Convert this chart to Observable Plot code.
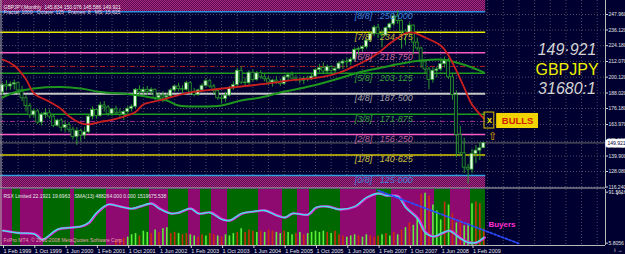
<!DOCTYPE html>
<html><head><meta charset="utf-8">
<script src="https://cdn.jsdelivr.net/npm/d3@7"></script>
<script src="https://cdn.jsdelivr.net/npm/@observablehq/plot@0.6"></script>
<style>
html,body{margin:0;padding:0;background:#000030;}
#chart{position:relative;width:625px;height:254px;overflow:hidden;background:#000030;}
#chart svg{display:block;}
</style></head><body><div id="chart"></div>
<script>
// ---------- DATA ----------
// monthly candles, Feb 1999 .. May 2009 (index 0 = Feb 1999)
const opens = [188.5,194.0,193.0,194.5,195.5,190.0,184.0,178.0,171.0,174.0,165.5,171.5,172.5,170.0,163.0,167.0,161.5,163.5,160.0,154.5,159.0,155.5,158.0,170.0,175.0,170.5,178.5,177.0,172.0,175.5,173.0,171.5,173.5,176.0,177.5,190.5,188.5,190.5,189.0,190.5,184.0,186.0,184.5,185.5,190.0,193.0,191.0,190.5,195.5,188.5,186.5,190.0,193.5,197.0,193.0,189.5,184.0,183.5,186.0,191.5,194.0,205.0,196.0,195.5,203.5,198.0,203.0,200.0,198.5,196.0,197.5,196.5,195.0,200.0,201.5,199.0,198.0,197.5,199.0,198.5,200.5,205.5,207.0,204.5,208.0,205.0,206.5,210.5,212.0,211.5,213.5,221.0,221.5,223.0,228.0,233.0,238.0,233.0,232.0,237.5,240.5,246.5,243.0,235.0,233.0,239.5,226.5,222.0,211.5,206.0,198.0,205.0,206.0,210.0,213.0,200.0,186.5,156.0,142.0,131.0,129.5,141.5,144.0,145.834];
const highs = [195.5,197.5,196.5,198.0,196.0,193.0,186.0,180.0,176.0,175.5,173.0,176.0,175.0,171.5,168.0,168.5,166.5,165.5,162.0,161.5,160.5,162.0,171.5,177.5,176.0,181.0,181.5,178.5,176.5,178.0,176.0,174.5,177.5,179.0,191.5,193.5,192.5,193.0,192.0,191.0,188.5,189.0,188.0,191.5,194.0,195.5,193.5,197.0,196.5,191.5,191.0,195.0,199.0,198.5,194.5,191.5,186.5,188.5,193.0,196.5,207.0,208.0,199.5,205.0,205.5,204.5,205.0,202.5,200.5,198.5,200.5,198.5,201.5,203.0,204.0,201.5,200.0,200.5,201.0,202.5,206.5,210.0,211.0,209.5,209.0,208.0,212.0,213.5,214.5,215.0,222.5,223.0,224.0,229.5,234.0,239.5,240.5,235.5,238.5,241.5,248.0,251.0,244.0,236.5,241.5,240.0,230.0,223.0,213.0,207.5,207.5,208.0,213.5,215.5,214.5,202.5,189.5,162.5,153.5,133.5,145.0,148.0,150.0,150.076];
const lows = [186.0,189.5,190.0,190.5,186.5,181.5,173.5,168.5,169.0,164.0,163.0,168.5,168.0,161.5,162.0,158.5,158.0,157.5,152.0,148.0,151.0,152.5,157.0,167.5,168.0,169.5,173.5,170.0,170.0,171.5,169.5,167.0,172.0,173.5,176.0,186.0,186.5,186.0,186.5,182.0,181.5,180.5,181.5,184.0,188.5,189.0,187.0,189.5,186.5,185.0,185.5,188.5,192.5,191.5,187.0,182.5,179.5,181.0,185.0,190.0,192.5,194.5,192.5,194.0,196.5,197.0,198.5,196.5,193.5,192.5,194.5,193.0,194.0,197.0,198.5,196.5,195.0,194.5,196.5,197.5,199.5,203.5,202.5,202.0,203.0,202.5,205.5,206.0,207.0,209.0,212.0,216.5,219.5,221.5,226.5,231.0,229.5,222.5,231.0,236.0,239.0,240.5,221.5,224.5,231.5,217.0,220.0,207.0,203.0,190.5,195.5,199.5,204.5,207.0,198.5,182.5,138.5,139.5,126.5,118.5,126.5,134.0,136.5,145.586];
const closes = [194.0,193.0,194.5,195.5,190.0,184.0,178.0,171.0,174.0,165.5,171.5,172.5,170.0,163.0,167.0,161.5,163.5,160.0,154.5,159.0,155.5,158.0,170.0,175.0,170.5,178.5,177.0,172.0,175.5,173.0,171.5,173.5,176.0,177.5,190.5,188.5,190.5,189.0,190.5,184.0,186.0,184.5,185.5,190.0,193.0,191.0,190.5,195.5,188.5,186.5,190.0,193.5,197.0,193.0,189.5,184.0,183.5,186.0,191.5,194.0,205.0,196.0,195.5,203.5,198.0,203.0,200.0,198.5,196.0,197.5,196.5,195.0,200.0,201.5,199.0,198.0,197.5,199.0,198.5,200.5,205.5,207.0,204.5,208.0,205.0,206.5,210.5,212.0,211.5,213.5,221.0,221.5,223.0,228.0,233.0,238.0,233.0,232.0,237.5,240.5,246.5,243.0,235.0,233.0,239.5,226.5,222.0,211.5,206.0,198.0,205.0,206.0,210.0,213.0,200.0,186.5,156.0,142.0,131.0,129.5,141.5,144.0,145.8,149.921];

// moving averages (bar index, price)
const redIdx = [0,3,6,8,12,15,17,20,22,25,27,31,34,36,40,47,50,54,61,68,73,79,81,86,91,94,96,99,101,103,105,108,112,114,116,118,120,123];
const redVal = [213.6,209.0,198.5,188.0,181.3,175.8,170.2,165.0,164.0,166.0,167.0,170.0,173.5,179.3,182.3,188.0,189.3,190.7,193.0,195.3,197.5,199.2,199.9,203.5,210.0,214.5,218.5,225.8,230.0,233.5,234.2,230.4,224.3,216.7,205.2,192.2,179.2,168.6];
const greenIdx = [0,3,8,15,20,25,33,38,42,45,51,56,61,66,71,76,81,86,91,97,102,107,112,116,120,123];
const greenVal = [184.6,188.4,191.5,192.6,191.5,188.8,186.9,184.6,182.3,178.5,177.7,178.5,182.3,184.6,188.4,191.5,194.9,199.1,203.7,207.5,210.6,212.8,213.6,211.3,207.5,203.7];

// Murrey Math levels
const mmLevels = [250.000,234.375,218.750,203.125,187.500,171.875,156.250,140.625,125.000];
const mmNames = ["[8/8]","[7/8]","[6/8]","[5/8]","[4/8]","[3/8]","[2/8]","[1/8]","[0/8]"];
const extraLevels = [208.3,166.3];

// axis ticks
const priceTicks = [247.960,236.120,224.180,212.070,200.120,188.020,176.180,163.970,151.130,139.900,128.080,116.240];
const timeTickIdx = [0,8,16,24,32,40,48,56,64,72,80,88,96,104,112,120];
const timeTickLabels = ["1 Feb 1999","1 Oct 1999","1 Jun 2000","1 Feb 2001","1 Oct 2001","1 Jun 2002","1 Feb 2003","1 Oct 2003","1 Jun 2004","1 Feb 2005","1 Oct 2005","1 Jun 2006","1 Feb 2007","1 Oct 2007","1 Jun 2008","1 Feb 2009"];
const rsxTicks = [91.5616,5.8056];

// RSX sub-window
const rsxState = ["mmm","gg","mmmmmm","ggggggg","m","gggggggg","mmmmmm","ggggg","mmmmm","ggggg","mmm","ggg","mmmm","gggggggg","mmmmmm","gggg","mmm","gggggggg","mmmmmmmmm","gggg","mmmmmmmmmmm","gggg","mmmmm","gggg"].join("");
const rsxIdx = [0,4,8,9,10,14,17,20,22,24,27,29,33,35,38,40,43,45,48,50,53,56,58,61,64,67,70,72,74,78,80,83,86,90,93,96,98,101,103,106,108,110,112,114,115,117,119,121,123];
const rsxVal = [27,23,21.5,17,11.5,29,32,34,40.5,57,71,69,64,67.5,72.5,64,55.7,57.4,64,55.7,57.4,45.7,44,55.7,59,60.8,52.4,49,55.7,54,65.8,67.5,62.5,67.5,82.6,89.4,86,84.3,65.8,47.4,23.8,17,22,27,23.8,13.7,7,7,15.4];
const histStart = 29;
const histVals = [10,12,14,16,20,22,18,26,24,22,28,24,30,32,22,24,22,20,22,20,18,16,20,18,22,20,18,16,20,18,22,24,30,24,28,26,24,26,24,28,26,24,22,26,24,20,22,24,20,22,24,26,24,26,24,22,26,20,18,16,18,20,18,16,20,18,16,18,20,22,18,24,20,28,32,40,36,50,88,90,85,70,60,45,75,70,55,40,45,35,38,72,75,72,30];
const histColors = "rrrgggrggrgrggrrgrrggrrgrrgrgggrgrrrgrgrrggrggrgrgggggrgrrrgggrggrrrgrgrgrgrggrgrgggrgrgrgggr";
const trendIdx = [96,132];
const trendVal = [94.4,5.3];
const signal = [{i:124.5, price:167.0, label:"BULLS"}];

// ---------- BUILD ----------
const n = closes.length;
const candles = closes.map((c,i)=>({i, open:opens[i], high:highs[i], low:lows[i], close:c}));
const red = redIdx.map((i,k)=>({i, v:redVal[k]}));
const green = greenIdx.map((i,k)=>({i, v:greenVal[k]}));
const mm = mmLevels.map((v,k)=>({v, name:mmNames[k], k}));
const XR = [-0.511, 154.12];
const xEnd = n - 0.5;
const yMain = [115.11, 258.65];
const ySub = [1.96, 96.1];
const lastClose = closes[n-1];
const gridIdx = d3.range(0, 156, 4);
const FONT = "Liberation Sans, Arial, sans-serif";

const mmStroke = ["#2f8fe0","#e8e800","#ff5cc0","#1e9a1e","#c8c8c8","#1e9a1e","#ff5cc0","#d8c800","#2fa0e0"];
const mmText = ["#3a80d8","#c0b038","#c8689e","#38a038","#a0a0a0","#38a038","#b8649a","#d0c040","#3a80d8"];
const fmt = v => v.toFixed(3).replace(".", "\u00b7");

const main = Plot.plot({
  width:625, height:188, marginLeft:0, marginRight:20, marginTop:0, marginBottom:0,
  style:{background:"transparent", color:"#e6e6e6", fontFamily:FONT, fontSize:"5px", overflow:"visible"},
  x:{domain:XR, axis:null},
  y:{domain:yMain},
  color:{type:"identity"},
  marks:[
    Plot.ruleX(gridIdx, {stroke:"#4a4a64", strokeDasharray:"1,2", strokeWidth:1}),
    Plot.ruleY(priceTicks, {stroke:"#4a4a64", strokeDasharray:"1,2", strokeWidth:1}),
    Plot.rect([mmLevels[0]], {x1:XR[0], x2:xEnd, y1:d=>d, y2:yMain[1], fill:"url(#hatch)"}),
    Plot.rect([mmLevels[8]], {x1:XR[0], x2:xEnd, y1:yMain[0], y2:d=>d, fill:"url(#hatch)"}),
    Plot.ruleY(mm, {y:"v", x1:XR[0], x2:xEnd, stroke:d=>mmStroke[d.k], strokeWidth:d=>d.k===4?2:1.5}),
    Plot.ruleY(extraLevels, {x1:XR[0], x2:xEnd, stroke:(d,k)=>k===0?"#b02020":"#9a2a8a", strokeDasharray:"5,2,1,2", strokeWidth:1}),
    Plot.ruleY([lastClose], {stroke:"#6a6a6a", strokeWidth:1}),
    Plot.ruleX(candles, {x:"i", y1:"low", y2:"high", stroke:"#2a9a2a", strokeWidth:1}),
    Plot.rect(candles, {x1:d=>d.i-0.38, x2:d=>d.i+0.38, y1:"open", y2:"close", fill:d=>d.close>=d.open?"#e4ffe4":"#00102a", stroke:"#2a9a2a", strokeWidth:0.8}),
    Plot.line(green, {x:"i", y:"v", stroke:"#1e961e", strokeWidth:2, curve:"catmull-rom"}),
    Plot.line(red, {x:"i", y:"v", stroke:"#cc2020", strokeWidth:1.8, curve:"catmull-rom"}),
    Plot.text(mm, {x:()=>90, y:"v", dy:4.5, text:d=>d.name+"\u00a0\u00a0\u00a0"+fmt(d.v), fill:d=>mmText[d.k], fontSize:9, fontStyle:"italic", textAnchor:"start"}),
    Plot.text(["GBPJPY,Monthly  145.834 150.076 145.586 149.921"], {frameAnchor:"top-left", dx:3, dy:5, fill:"#f0f0f0", fontSize:5, textAnchor:"start"}),
    Plot.text(["Fractal: 1000   Octave: 125   Frames: 8   MS: 15.625"], {frameAnchor:"top-left", dx:3, dy:10, fill:"#f0d0e6", fontSize:5, textAnchor:"start"}),
    Plot.text([fmt(lastClose)], {frameAnchor:"top-right", dx:-38.5, dy:43, fill:"#d4d4d4", fontSize:16, fontStyle:"italic", textAnchor:"middle"}),
    Plot.text(["GBPJPY"], {frameAnchor:"top-right", dx:-38.5, dy:63, fill:"#f0f000", fontSize:16, textAnchor:"middle"}),
    Plot.text(["31680:1"], {frameAnchor:"top-right", dx:-38.5, dy:82, fill:"#d4d4d4", fontSize:16, fontStyle:"italic", textAnchor:"middle"}),
    Plot.rect(signal, {x1:d=>d.i-1.3, x2:d=>d.i+1.2, y1:d=>d.price+6.1, y2:d=>d.price-6.1, fill:"none", stroke:"#d8c000", strokeWidth:1}),
    Plot.text(signal, {x:"i", y:"price", text:()=>"x", fill:"#f0e000", fontSize:9, fontWeight:"bold"}),
    Plot.rect(signal, {x1:d=>d.i+1.8, x2:d=>d.i+12.5, y1:d=>d.price+5.4, y2:d=>d.price-6.1, fill:"#f2d400"}),
    Plot.text(signal, {x:"i", y:"price", dx:28, text:"label", fill:"#d02000", fontSize:9.5, fontWeight:"bold"}),
    Plot.text(signal, {x:"i", y:"price", dx:2.5, dy:16, text:()=>"\u21e7", fill:"#e0a800", fontSize:11}),
    Plot.ruleX([XR[0]], {stroke:"#b0b0b0", dx:0.5}),
    Plot.ruleX([XR[1]], {stroke:"#b8b8b8"}),
    Plot.ruleY([yMain[0]], {stroke:"#b8b8b8", dy:-0.5}),
    Plot.axisY(priceTicks, {anchor:"right", tickSize:2, tickPadding:1, tickFormat:d3.format(".3f"), fontSize:5, stroke:"#d0d0d0", fill:"#e6e6e6"}),
    Plot.text([lastClose], {y:d=>d, frameAnchor:"right", dx:11, text:d=>d.toFixed(3), fill:"#000030", stroke:"#ffffff", strokeWidth:5, paintOrder:"stroke", fontSize:5, textAnchor:"middle"})
  ]
});
const ns = "http://www.w3.org/2000/svg";
const defs = document.createElementNS(ns, "defs");
defs.innerHTML = '<pattern id="hatch" width="2" height="2" patternUnits="userSpaceOnUse"><rect width="2" height="2" fill="#5a0e52"/><rect width="1" height="1" fill="#a8287f"/><rect x="1" y="1" width="1" height="1" fill="#a8287f"/></pattern>';
main.insertBefore(defs, main.firstChild);

// runs of bull/bear state
const runs = [];
let s0 = 0;
for (let i = 1; i <= rsxState.length; i++) {
  if (i === rsxState.length || rsxState[i] !== rsxState[s0]) { runs.push({a:s0, b:i-1, st:rsxState[s0]}); s0 = i; }
}
const hist = histVals.map((v,k)=>({i:histStart+k, v, c:histColors[k]}));
const rsx = rsxIdx.map((i,k)=>({i, v:rsxVal[k]}));
const trend = trendIdx.map((i,k)=>({i, v:trendVal[k]}));

const sub = Plot.plot({
  width:625, height:66, marginLeft:0, marginRight:20, marginTop:1, marginBottom:9,
  style:{background:"transparent", color:"#e6e6e6", fontFamily:FONT, fontSize:"5px", overflow:"visible"},
  x:{domain:XR},
  y:{domain:ySub},
  color:{type:"identity"},
  marks:[
    Plot.ruleX(gridIdx, {stroke:"#4a4a64", strokeDasharray:"1,2", strokeWidth:1}),
    Plot.rect(runs, {x1:d=>d.a-0.5, x2:d=>d.b+0.5, y1:ySub[0], y2:ySub[1], fill:d=>d.st==="g"?"#006800":"#8e0a70", shapeRendering:"crispEdges"}),
    Plot.ruleX(hist, {x:"i", y1:ySub[0], y2:"v", stroke:d=>d.c==="g"?"#5cf03a":"#c8300c", strokeWidth:1.6}),
    Plot.line(rsx, {x:"i", y:"v", stroke:"#e030d8", strokeWidth:2.4, dx:1, curve:"catmull-rom"}),
    Plot.line(rsx, {x:"i", y:"v", stroke:"#40e6e6", strokeWidth:1.3, curve:"catmull-rom"}),
    Plot.line(trend, {x:"i", y:"v", stroke:"#2a4cff", strokeWidth:1.8, strokeDasharray:"2,2"}),
    Plot.text(["RSX Limited 22.1921 19.6963   SMA(13) 488264.000 0.000 1519675.538"], {frameAnchor:"top-left", dx:3, dy:5, fill:"#e8e8e8", fontSize:5, textAnchor:"start"}),
    Plot.text(["FxPro MT4, \u00a9 2001-2008 MetaQuotes Software Corp."], {frameAnchor:"bottom-left", dx:3, dy:-4, fill:"#e8a0b0", fontSize:5, textAnchor:"start"}),
    Plot.text(["Buyers"], {x:()=>124.2, y:()=>37.3, fill:"#ff30d0", fontSize:8, fontWeight:"bold", textAnchor:"start"}),
    Plot.ruleX([XR[1]], {stroke:"#b8b8b8"}),
    Plot.ruleX([XR[0]], {stroke:"#b0b0b0", dx:0.5}),
    Plot.ruleY([ySub[0]], {stroke:"#b8b8b8"}),
    Plot.axisY(rsxTicks, {anchor:"right", tickSize:2, tickPadding:1, tickFormat:d=>d.toFixed(4), fontSize:5, stroke:"#d0d0d0", fill:"#e6e6e6"}),
    Plot.axisX(timeTickIdx, {anchor:"bottom", tickSize:3, tickPadding:1, tickFormat:d=>timeTickLabels[timeTickIdx.indexOf(d)], textAnchor:"start", dx:1, fontSize:5.5, stroke:"#d0d0d0", fill:"#e6e6e6"})
  ]
});
document.getElementById("chart").append(main, sub);
</script></body></html>
